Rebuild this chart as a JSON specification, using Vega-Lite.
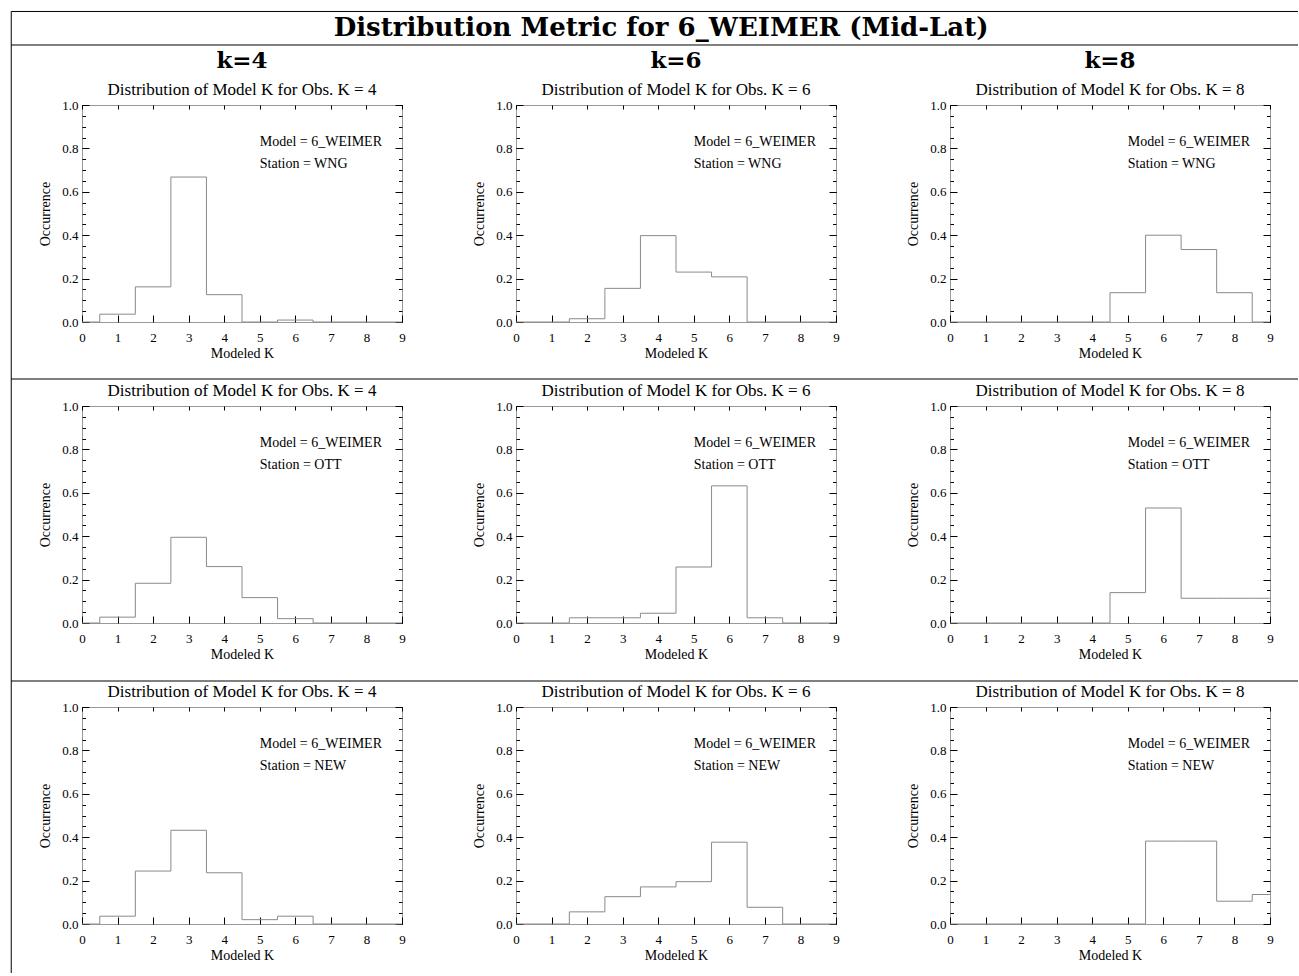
{
"$schema": "https://vega.github.io/schema/vega-lite/v6.json",
"padding": {"left": 10, "top": 10, "right": 0, "bottom": 0},
"background": "white",
"data": {"values": [
{"st":"WNG","obs":4,"k":0,"p":0},{"st":"WNG","obs":4,"k":1,"p":0.036},{"st":"WNG","obs":4,"k":2,"p":0.162},{"st":"WNG","obs":4,"k":3,"p":0.668},{"st":"WNG","obs":4,"k":4,"p":0.126},{"st":"WNG","obs":4,"k":5,"p":0},{"st":"WNG","obs":4,"k":6,"p":0.009},{"st":"WNG","obs":4,"k":7,"p":0},{"st":"WNG","obs":4,"k":8,"p":0},{"st":"WNG","obs":4,"k":9,"p":0},
{"st":"WNG","obs":6,"k":0,"p":0},{"st":"WNG","obs":6,"k":1,"p":0},{"st":"WNG","obs":6,"k":2,"p":0.015},{"st":"WNG","obs":6,"k":3,"p":0.155},{"st":"WNG","obs":6,"k":4,"p":0.398},{"st":"WNG","obs":6,"k":5,"p":0.23},{"st":"WNG","obs":6,"k":6,"p":0.208},{"st":"WNG","obs":6,"k":7,"p":0},{"st":"WNG","obs":6,"k":8,"p":0},{"st":"WNG","obs":6,"k":9,"p":0},
{"st":"WNG","obs":8,"k":0,"p":0},{"st":"WNG","obs":8,"k":1,"p":0},{"st":"WNG","obs":8,"k":2,"p":0},{"st":"WNG","obs":8,"k":3,"p":0},{"st":"WNG","obs":8,"k":4,"p":0},{"st":"WNG","obs":8,"k":5,"p":0.135},{"st":"WNG","obs":8,"k":6,"p":0.4},{"st":"WNG","obs":8,"k":7,"p":0.334},{"st":"WNG","obs":8,"k":8,"p":0.135},{"st":"WNG","obs":8,"k":9,"p":0},
{"st":"OTT","obs":4,"k":0,"p":0},{"st":"OTT","obs":4,"k":1,"p":0.027},{"st":"OTT","obs":4,"k":2,"p":0.183},{"st":"OTT","obs":4,"k":3,"p":0.395},{"st":"OTT","obs":4,"k":4,"p":0.26},{"st":"OTT","obs":4,"k":5,"p":0.117},{"st":"OTT","obs":4,"k":6,"p":0.02},{"st":"OTT","obs":4,"k":7,"p":0},{"st":"OTT","obs":4,"k":8,"p":0},{"st":"OTT","obs":4,"k":9,"p":0},
{"st":"OTT","obs":6,"k":0,"p":0},{"st":"OTT","obs":6,"k":1,"p":0},{"st":"OTT","obs":6,"k":2,"p":0.024},{"st":"OTT","obs":6,"k":3,"p":0.024},{"st":"OTT","obs":6,"k":4,"p":0.045},{"st":"OTT","obs":6,"k":5,"p":0.258},{"st":"OTT","obs":6,"k":6,"p":0.632},{"st":"OTT","obs":6,"k":7,"p":0.024},{"st":"OTT","obs":6,"k":8,"p":0},{"st":"OTT","obs":6,"k":9,"p":0},
{"st":"OTT","obs":8,"k":0,"p":0},{"st":"OTT","obs":8,"k":1,"p":0},{"st":"OTT","obs":8,"k":2,"p":0},{"st":"OTT","obs":8,"k":3,"p":0},{"st":"OTT","obs":8,"k":4,"p":0},{"st":"OTT","obs":8,"k":5,"p":0.14},{"st":"OTT","obs":8,"k":6,"p":0.53},{"st":"OTT","obs":8,"k":7,"p":0.114},{"st":"OTT","obs":8,"k":8,"p":0.114},{"st":"OTT","obs":8,"k":9,"p":0.114},
{"st":"NEW","obs":4,"k":0,"p":0},{"st":"NEW","obs":4,"k":1,"p":0.036},{"st":"NEW","obs":4,"k":2,"p":0.244},{"st":"NEW","obs":4,"k":3,"p":0.432},{"st":"NEW","obs":4,"k":4,"p":0.236},{"st":"NEW","obs":4,"k":5,"p":0.02},{"st":"NEW","obs":4,"k":6,"p":0.036},{"st":"NEW","obs":4,"k":7,"p":0},{"st":"NEW","obs":4,"k":8,"p":0},{"st":"NEW","obs":4,"k":9,"p":0},
{"st":"NEW","obs":6,"k":0,"p":0},{"st":"NEW","obs":6,"k":1,"p":0},{"st":"NEW","obs":6,"k":2,"p":0.056},{"st":"NEW","obs":6,"k":3,"p":0.126},{"st":"NEW","obs":6,"k":4,"p":0.171},{"st":"NEW","obs":6,"k":5,"p":0.195},{"st":"NEW","obs":6,"k":6,"p":0.377},{"st":"NEW","obs":6,"k":7,"p":0.077},{"st":"NEW","obs":6,"k":8,"p":0},{"st":"NEW","obs":6,"k":9,"p":0},
{"st":"NEW","obs":8,"k":0,"p":0},{"st":"NEW","obs":8,"k":1,"p":0},{"st":"NEW","obs":8,"k":2,"p":0},{"st":"NEW","obs":8,"k":3,"p":0},{"st":"NEW","obs":8,"k":4,"p":0},{"st":"NEW","obs":8,"k":5,"p":0},{"st":"NEW","obs":8,"k":6,"p":0.382},{"st":"NEW","obs":8,"k":7,"p":0.382},{"st":"NEW","obs":8,"k":8,"p":0.105},{"st":"NEW","obs":8,"k":9,"p":0.136}
]},
"columns": 3,
"spacing": {"row": 84, "column": 114},
"bounds": "flush",
"concat": [
{"width":320,"height":217,"transform":[{"filter":"datum.st=='WNG' && datum.obs==4"}],"resolve":{"axis":{"x":"independent","y":"independent"}},"layer":[
 {"mark":{"type":"line","interpolate":"step","color":"#8a8a8a","strokeWidth":1},"encoding":{"x":{"field":"k","type":"quantitative","scale":{"domain":[0,9],"nice":false},"axis":{"orient":"bottom","values":[0,1,2,3,4,5,6,7,8,9],"tickSize":-7,"labelPadding":16,"title":"Modeled K","titlePadding":2}},"y":{"field":"p","type":"quantitative","scale":{"domain":[0,1],"nice":false},"axis":{"orient":"left","values":[0,0.2,0.4,0.6,0.8,1],"format":".1f","tickSize":-7,"labelPadding":11,"title":"Occurrence","titlePadding":9}}}},
 {"mark":{"type":"line","opacity":0},"encoding":{"x":{"field":"k","type":"quantitative","axis":{"orient":"top","values":[0,1,2,3,4,5,6,7,8,9],"tickSize":-4,"labels":false,"title":null}},"y":{"field":"p","type":"quantitative","axis":{"orient":"right","values":[0,0.2,0.4,0.6,0.8,1],"tickSize":-7,"labels":false,"title":null}}}},
 {"mark":{"type":"line","opacity":0},"encoding":{"x":{"field":"k","type":"quantitative","axis":null},"y":{"field":"p","type":"quantitative","axis":{"orient":"left","values":[0,0.05,0.1,0.15,0.2,0.25,0.3,0.35,0.4,0.45,0.5,0.55,0.6,0.65,0.7,0.75,0.8,0.85,0.9,0.95,1],"tickSize":-3.5,"labels":false,"title":null}}}},
 {"mark":{"type":"line","opacity":0},"encoding":{"x":{"field":"k","type":"quantitative","axis":null},"y":{"field":"p","type":"quantitative","axis":{"orient":"right","values":[0,0.05,0.1,0.15,0.2,0.25,0.3,0.35,0.4,0.45,0.5,0.55,0.6,0.65,0.7,0.75,0.8,0.85,0.9,0.95,1],"tickSize":-3.5,"labels":false,"title":null}}}},
 {"transform":[{"filter":"datum.k==0"}],"mark":{"type":"text","align":"left","baseline":"middle","fontSize":14},"encoding":{"x":{"datum":5,"type":"quantitative","axis":null},"y":{"datum":0.83,"type":"quantitative","axis":null},"text":{"value":"Model = 6_WEIMER"}}},
 {"transform":[{"filter":"datum.k==0"}],"mark":{"type":"text","align":"left","baseline":"middle","fontSize":14},"encoding":{"x":{"datum":5,"type":"quantitative","axis":null},"y":{"datum":0.728,"type":"quantitative","axis":null},"text":{"value":"Station = WNG"}}},
 {"transform":[{"filter":"datum.k==0"}],"mark":{"type":"text","align":"center","baseline":"middle","fontSize":17},"encoding":{"x":{"datum":4.5,"type":"quantitative","axis":null},"y":{"datum":1.0691,"type":"quantitative","axis":null},"text":{"value":"Distribution of Model K for Obs. K = 4"}}},
 {"transform":[{"filter":"datum.k==0"}],"mark":{"type":"text","align":"center","baseline":"middle","font":"DejaVu Serif","fontWeight":"bold","fontSize":23},"encoding":{"x":{"datum":4.5,"type":"quantitative","axis":null},"y":{"datum":1.2028,"type":"quantitative","axis":null},"text":{"value":"k=4"}}},
 {"transform":[{"filter":"datum.k==0"}],"mark":{"type":"rule","color":"#000000","strokeWidth":1},"encoding":{"x":{"datum":-1.99,"type":"quantitative","axis":null},"x2":{"datum":34.2},"y":{"datum":1.431,"type":"quantitative","axis":null}}},
 {"transform":[{"filter":"datum.k==0"}],"mark":{"type":"rule","color":"#000000","strokeWidth":1},"encoding":{"x":{"datum":-1.99,"type":"quantitative","axis":null},"x2":{"datum":34.2},"y":{"datum":1.2765,"type":"quantitative","axis":null}}},
 {"transform":[{"filter":"datum.k==0"}],"mark":{"type":"rule","color":"#000000","strokeWidth":1},"encoding":{"x":{"datum":-1.99,"type":"quantitative","axis":null},"y":{"datum":1.431,"type":"quantitative","axis":null},"y2":{"datum":-3.0}}}
]},
{"width":320,"height":217,"transform":[{"filter":"datum.st=='WNG' && datum.obs==6"}],"resolve":{"axis":{"x":"independent","y":"independent"}},"layer":[
 {"mark":{"type":"line","interpolate":"step","color":"#8a8a8a","strokeWidth":1},"encoding":{"x":{"field":"k","type":"quantitative","scale":{"domain":[0,9],"nice":false},"axis":{"orient":"bottom","values":[0,1,2,3,4,5,6,7,8,9],"tickSize":-7,"labelPadding":16,"title":"Modeled K","titlePadding":2}},"y":{"field":"p","type":"quantitative","scale":{"domain":[0,1],"nice":false},"axis":{"orient":"left","values":[0,0.2,0.4,0.6,0.8,1],"format":".1f","tickSize":-7,"labelPadding":11,"title":"Occurrence","titlePadding":9}}}},
 {"mark":{"type":"line","opacity":0},"encoding":{"x":{"field":"k","type":"quantitative","axis":{"orient":"top","values":[0,1,2,3,4,5,6,7,8,9],"tickSize":-4,"labels":false,"title":null}},"y":{"field":"p","type":"quantitative","axis":{"orient":"right","values":[0,0.2,0.4,0.6,0.8,1],"tickSize":-7,"labels":false,"title":null}}}},
 {"mark":{"type":"line","opacity":0},"encoding":{"x":{"field":"k","type":"quantitative","axis":null},"y":{"field":"p","type":"quantitative","axis":{"orient":"left","values":[0,0.05,0.1,0.15,0.2,0.25,0.3,0.35,0.4,0.45,0.5,0.55,0.6,0.65,0.7,0.75,0.8,0.85,0.9,0.95,1],"tickSize":-3.5,"labels":false,"title":null}}}},
 {"mark":{"type":"line","opacity":0},"encoding":{"x":{"field":"k","type":"quantitative","axis":null},"y":{"field":"p","type":"quantitative","axis":{"orient":"right","values":[0,0.05,0.1,0.15,0.2,0.25,0.3,0.35,0.4,0.45,0.5,0.55,0.6,0.65,0.7,0.75,0.8,0.85,0.9,0.95,1],"tickSize":-3.5,"labels":false,"title":null}}}},
 {"transform":[{"filter":"datum.k==0"}],"mark":{"type":"text","align":"left","baseline":"middle","fontSize":14},"encoding":{"x":{"datum":5,"type":"quantitative","axis":null},"y":{"datum":0.83,"type":"quantitative","axis":null},"text":{"value":"Model = 6_WEIMER"}}},
 {"transform":[{"filter":"datum.k==0"}],"mark":{"type":"text","align":"left","baseline":"middle","fontSize":14},"encoding":{"x":{"datum":5,"type":"quantitative","axis":null},"y":{"datum":0.728,"type":"quantitative","axis":null},"text":{"value":"Station = WNG"}}},
 {"transform":[{"filter":"datum.k==0"}],"mark":{"type":"text","align":"center","baseline":"middle","fontSize":17},"encoding":{"x":{"datum":4.5,"type":"quantitative","axis":null},"y":{"datum":1.0691,"type":"quantitative","axis":null},"text":{"value":"Distribution of Model K for Obs. K = 6"}}},
 {"transform":[{"filter":"datum.k==0"}],"mark":{"type":"text","align":"center","baseline":"middle","font":"DejaVu Serif","fontWeight":"bold","fontSize":23},"encoding":{"x":{"datum":4.5,"type":"quantitative","axis":null},"y":{"datum":1.2028,"type":"quantitative","axis":null},"text":{"value":"k=6"}}},
 {"transform":[{"filter":"datum.k==0"}],"mark":{"type":"text","align":"center","baseline":"middle","font":"DejaVu Serif","fontWeight":"bold","fontSize":26},"encoding":{"x":{"datum":4.08,"type":"quantitative","axis":null},"y":{"datum":1.3548,"type":"quantitative","axis":null},"text":{"value":"Distribution Metric for 6_WEIMER (Mid-Lat)"}}}
]},
{"width":320,"height":217,"transform":[{"filter":"datum.st=='WNG' && datum.obs==8"}],"resolve":{"axis":{"x":"independent","y":"independent"}},"layer":[
 {"mark":{"type":"line","interpolate":"step","color":"#8a8a8a","strokeWidth":1},"encoding":{"x":{"field":"k","type":"quantitative","scale":{"domain":[0,9],"nice":false},"axis":{"orient":"bottom","values":[0,1,2,3,4,5,6,7,8,9],"tickSize":-7,"labelPadding":16,"title":"Modeled K","titlePadding":2}},"y":{"field":"p","type":"quantitative","scale":{"domain":[0,1],"nice":false},"axis":{"orient":"left","values":[0,0.2,0.4,0.6,0.8,1],"format":".1f","tickSize":-7,"labelPadding":11,"title":"Occurrence","titlePadding":9}}}},
 {"mark":{"type":"line","opacity":0},"encoding":{"x":{"field":"k","type":"quantitative","axis":{"orient":"top","values":[0,1,2,3,4,5,6,7,8,9],"tickSize":-4,"labels":false,"title":null}},"y":{"field":"p","type":"quantitative","axis":{"orient":"right","values":[0,0.2,0.4,0.6,0.8,1],"tickSize":-7,"labels":false,"title":null}}}},
 {"mark":{"type":"line","opacity":0},"encoding":{"x":{"field":"k","type":"quantitative","axis":null},"y":{"field":"p","type":"quantitative","axis":{"orient":"left","values":[0,0.05,0.1,0.15,0.2,0.25,0.3,0.35,0.4,0.45,0.5,0.55,0.6,0.65,0.7,0.75,0.8,0.85,0.9,0.95,1],"tickSize":-3.5,"labels":false,"title":null}}}},
 {"mark":{"type":"line","opacity":0},"encoding":{"x":{"field":"k","type":"quantitative","axis":null},"y":{"field":"p","type":"quantitative","axis":{"orient":"right","values":[0,0.05,0.1,0.15,0.2,0.25,0.3,0.35,0.4,0.45,0.5,0.55,0.6,0.65,0.7,0.75,0.8,0.85,0.9,0.95,1],"tickSize":-3.5,"labels":false,"title":null}}}},
 {"transform":[{"filter":"datum.k==0"}],"mark":{"type":"text","align":"left","baseline":"middle","fontSize":14},"encoding":{"x":{"datum":5,"type":"quantitative","axis":null},"y":{"datum":0.83,"type":"quantitative","axis":null},"text":{"value":"Model = 6_WEIMER"}}},
 {"transform":[{"filter":"datum.k==0"}],"mark":{"type":"text","align":"left","baseline":"middle","fontSize":14},"encoding":{"x":{"datum":5,"type":"quantitative","axis":null},"y":{"datum":0.728,"type":"quantitative","axis":null},"text":{"value":"Station = WNG"}}},
 {"transform":[{"filter":"datum.k==0"}],"mark":{"type":"text","align":"center","baseline":"middle","fontSize":17},"encoding":{"x":{"datum":4.5,"type":"quantitative","axis":null},"y":{"datum":1.0691,"type":"quantitative","axis":null},"text":{"value":"Distribution of Model K for Obs. K = 8"}}},
 {"transform":[{"filter":"datum.k==0"}],"mark":{"type":"text","align":"center","baseline":"middle","font":"DejaVu Serif","fontWeight":"bold","fontSize":23},"encoding":{"x":{"datum":4.5,"type":"quantitative","axis":null},"y":{"datum":1.2028,"type":"quantitative","axis":null},"text":{"value":"k=8"}}}
]},
{"width":320,"height":217,"transform":[{"filter":"datum.st=='OTT' && datum.obs==4"}],"resolve":{"axis":{"x":"independent","y":"independent"}},"layer":[
 {"mark":{"type":"line","interpolate":"step","color":"#8a8a8a","strokeWidth":1},"encoding":{"x":{"field":"k","type":"quantitative","scale":{"domain":[0,9],"nice":false},"axis":{"orient":"bottom","values":[0,1,2,3,4,5,6,7,8,9],"tickSize":-7,"labelPadding":16,"title":"Modeled K","titlePadding":2}},"y":{"field":"p","type":"quantitative","scale":{"domain":[0,1],"nice":false},"axis":{"orient":"left","values":[0,0.2,0.4,0.6,0.8,1],"format":".1f","tickSize":-7,"labelPadding":11,"title":"Occurrence","titlePadding":9}}}},
 {"mark":{"type":"line","opacity":0},"encoding":{"x":{"field":"k","type":"quantitative","axis":{"orient":"top","values":[0,1,2,3,4,5,6,7,8,9],"tickSize":-4,"labels":false,"title":null}},"y":{"field":"p","type":"quantitative","axis":{"orient":"right","values":[0,0.2,0.4,0.6,0.8,1],"tickSize":-7,"labels":false,"title":null}}}},
 {"mark":{"type":"line","opacity":0},"encoding":{"x":{"field":"k","type":"quantitative","axis":null},"y":{"field":"p","type":"quantitative","axis":{"orient":"left","values":[0,0.05,0.1,0.15,0.2,0.25,0.3,0.35,0.4,0.45,0.5,0.55,0.6,0.65,0.7,0.75,0.8,0.85,0.9,0.95,1],"tickSize":-3.5,"labels":false,"title":null}}}},
 {"mark":{"type":"line","opacity":0},"encoding":{"x":{"field":"k","type":"quantitative","axis":null},"y":{"field":"p","type":"quantitative","axis":{"orient":"right","values":[0,0.05,0.1,0.15,0.2,0.25,0.3,0.35,0.4,0.45,0.5,0.55,0.6,0.65,0.7,0.75,0.8,0.85,0.9,0.95,1],"tickSize":-3.5,"labels":false,"title":null}}}},
 {"transform":[{"filter":"datum.k==0"}],"mark":{"type":"text","align":"left","baseline":"middle","fontSize":14},"encoding":{"x":{"datum":5,"type":"quantitative","axis":null},"y":{"datum":0.83,"type":"quantitative","axis":null},"text":{"value":"Model = 6_WEIMER"}}},
 {"transform":[{"filter":"datum.k==0"}],"mark":{"type":"text","align":"left","baseline":"middle","fontSize":14},"encoding":{"x":{"datum":5,"type":"quantitative","axis":null},"y":{"datum":0.728,"type":"quantitative","axis":null},"text":{"value":"Station = OTT"}}},
 {"transform":[{"filter":"datum.k==0"}],"mark":{"type":"text","align":"center","baseline":"middle","fontSize":17},"encoding":{"x":{"datum":4.5,"type":"quantitative","axis":null},"y":{"datum":1.0691,"type":"quantitative","axis":null},"text":{"value":"Distribution of Model K for Obs. K = 4"}}},
 {"transform":[{"filter":"datum.k==0"}],"mark":{"type":"rule","color":"#000000","strokeWidth":1},"encoding":{"x":{"datum":-1.99,"type":"quantitative","axis":null},"x2":{"datum":34.2},"y":{"datum":1.1244,"type":"quantitative","axis":null}}}
]},
{"width":320,"height":217,"transform":[{"filter":"datum.st=='OTT' && datum.obs==6"}],"resolve":{"axis":{"x":"independent","y":"independent"}},"layer":[
 {"mark":{"type":"line","interpolate":"step","color":"#8a8a8a","strokeWidth":1},"encoding":{"x":{"field":"k","type":"quantitative","scale":{"domain":[0,9],"nice":false},"axis":{"orient":"bottom","values":[0,1,2,3,4,5,6,7,8,9],"tickSize":-7,"labelPadding":16,"title":"Modeled K","titlePadding":2}},"y":{"field":"p","type":"quantitative","scale":{"domain":[0,1],"nice":false},"axis":{"orient":"left","values":[0,0.2,0.4,0.6,0.8,1],"format":".1f","tickSize":-7,"labelPadding":11,"title":"Occurrence","titlePadding":9}}}},
 {"mark":{"type":"line","opacity":0},"encoding":{"x":{"field":"k","type":"quantitative","axis":{"orient":"top","values":[0,1,2,3,4,5,6,7,8,9],"tickSize":-4,"labels":false,"title":null}},"y":{"field":"p","type":"quantitative","axis":{"orient":"right","values":[0,0.2,0.4,0.6,0.8,1],"tickSize":-7,"labels":false,"title":null}}}},
 {"mark":{"type":"line","opacity":0},"encoding":{"x":{"field":"k","type":"quantitative","axis":null},"y":{"field":"p","type":"quantitative","axis":{"orient":"left","values":[0,0.05,0.1,0.15,0.2,0.25,0.3,0.35,0.4,0.45,0.5,0.55,0.6,0.65,0.7,0.75,0.8,0.85,0.9,0.95,1],"tickSize":-3.5,"labels":false,"title":null}}}},
 {"mark":{"type":"line","opacity":0},"encoding":{"x":{"field":"k","type":"quantitative","axis":null},"y":{"field":"p","type":"quantitative","axis":{"orient":"right","values":[0,0.05,0.1,0.15,0.2,0.25,0.3,0.35,0.4,0.45,0.5,0.55,0.6,0.65,0.7,0.75,0.8,0.85,0.9,0.95,1],"tickSize":-3.5,"labels":false,"title":null}}}},
 {"transform":[{"filter":"datum.k==0"}],"mark":{"type":"text","align":"left","baseline":"middle","fontSize":14},"encoding":{"x":{"datum":5,"type":"quantitative","axis":null},"y":{"datum":0.83,"type":"quantitative","axis":null},"text":{"value":"Model = 6_WEIMER"}}},
 {"transform":[{"filter":"datum.k==0"}],"mark":{"type":"text","align":"left","baseline":"middle","fontSize":14},"encoding":{"x":{"datum":5,"type":"quantitative","axis":null},"y":{"datum":0.728,"type":"quantitative","axis":null},"text":{"value":"Station = OTT"}}},
 {"transform":[{"filter":"datum.k==0"}],"mark":{"type":"text","align":"center","baseline":"middle","fontSize":17},"encoding":{"x":{"datum":4.5,"type":"quantitative","axis":null},"y":{"datum":1.0691,"type":"quantitative","axis":null},"text":{"value":"Distribution of Model K for Obs. K = 6"}}}
]},
{"width":320,"height":217,"transform":[{"filter":"datum.st=='OTT' && datum.obs==8"}],"resolve":{"axis":{"x":"independent","y":"independent"}},"layer":[
 {"mark":{"type":"line","interpolate":"step","color":"#8a8a8a","strokeWidth":1},"encoding":{"x":{"field":"k","type":"quantitative","scale":{"domain":[0,9],"nice":false},"axis":{"orient":"bottom","values":[0,1,2,3,4,5,6,7,8,9],"tickSize":-7,"labelPadding":16,"title":"Modeled K","titlePadding":2}},"y":{"field":"p","type":"quantitative","scale":{"domain":[0,1],"nice":false},"axis":{"orient":"left","values":[0,0.2,0.4,0.6,0.8,1],"format":".1f","tickSize":-7,"labelPadding":11,"title":"Occurrence","titlePadding":9}}}},
 {"mark":{"type":"line","opacity":0},"encoding":{"x":{"field":"k","type":"quantitative","axis":{"orient":"top","values":[0,1,2,3,4,5,6,7,8,9],"tickSize":-4,"labels":false,"title":null}},"y":{"field":"p","type":"quantitative","axis":{"orient":"right","values":[0,0.2,0.4,0.6,0.8,1],"tickSize":-7,"labels":false,"title":null}}}},
 {"mark":{"type":"line","opacity":0},"encoding":{"x":{"field":"k","type":"quantitative","axis":null},"y":{"field":"p","type":"quantitative","axis":{"orient":"left","values":[0,0.05,0.1,0.15,0.2,0.25,0.3,0.35,0.4,0.45,0.5,0.55,0.6,0.65,0.7,0.75,0.8,0.85,0.9,0.95,1],"tickSize":-3.5,"labels":false,"title":null}}}},
 {"mark":{"type":"line","opacity":0},"encoding":{"x":{"field":"k","type":"quantitative","axis":null},"y":{"field":"p","type":"quantitative","axis":{"orient":"right","values":[0,0.05,0.1,0.15,0.2,0.25,0.3,0.35,0.4,0.45,0.5,0.55,0.6,0.65,0.7,0.75,0.8,0.85,0.9,0.95,1],"tickSize":-3.5,"labels":false,"title":null}}}},
 {"transform":[{"filter":"datum.k==0"}],"mark":{"type":"text","align":"left","baseline":"middle","fontSize":14},"encoding":{"x":{"datum":5,"type":"quantitative","axis":null},"y":{"datum":0.83,"type":"quantitative","axis":null},"text":{"value":"Model = 6_WEIMER"}}},
 {"transform":[{"filter":"datum.k==0"}],"mark":{"type":"text","align":"left","baseline":"middle","fontSize":14},"encoding":{"x":{"datum":5,"type":"quantitative","axis":null},"y":{"datum":0.728,"type":"quantitative","axis":null},"text":{"value":"Station = OTT"}}},
 {"transform":[{"filter":"datum.k==0"}],"mark":{"type":"text","align":"center","baseline":"middle","fontSize":17},"encoding":{"x":{"datum":4.5,"type":"quantitative","axis":null},"y":{"datum":1.0691,"type":"quantitative","axis":null},"text":{"value":"Distribution of Model K for Obs. K = 8"}}}
]},
{"width":320,"height":217,"transform":[{"filter":"datum.st=='NEW' && datum.obs==4"}],"resolve":{"axis":{"x":"independent","y":"independent"}},"layer":[
 {"mark":{"type":"line","interpolate":"step","color":"#8a8a8a","strokeWidth":1},"encoding":{"x":{"field":"k","type":"quantitative","scale":{"domain":[0,9],"nice":false},"axis":{"orient":"bottom","values":[0,1,2,3,4,5,6,7,8,9],"tickSize":-7,"labelPadding":16,"title":"Modeled K","titlePadding":2}},"y":{"field":"p","type":"quantitative","scale":{"domain":[0,1],"nice":false},"axis":{"orient":"left","values":[0,0.2,0.4,0.6,0.8,1],"format":".1f","tickSize":-7,"labelPadding":11,"title":"Occurrence","titlePadding":9}}}},
 {"mark":{"type":"line","opacity":0},"encoding":{"x":{"field":"k","type":"quantitative","axis":{"orient":"top","values":[0,1,2,3,4,5,6,7,8,9],"tickSize":-4,"labels":false,"title":null}},"y":{"field":"p","type":"quantitative","axis":{"orient":"right","values":[0,0.2,0.4,0.6,0.8,1],"tickSize":-7,"labels":false,"title":null}}}},
 {"mark":{"type":"line","opacity":0},"encoding":{"x":{"field":"k","type":"quantitative","axis":null},"y":{"field":"p","type":"quantitative","axis":{"orient":"left","values":[0,0.05,0.1,0.15,0.2,0.25,0.3,0.35,0.4,0.45,0.5,0.55,0.6,0.65,0.7,0.75,0.8,0.85,0.9,0.95,1],"tickSize":-3.5,"labels":false,"title":null}}}},
 {"mark":{"type":"line","opacity":0},"encoding":{"x":{"field":"k","type":"quantitative","axis":null},"y":{"field":"p","type":"quantitative","axis":{"orient":"right","values":[0,0.05,0.1,0.15,0.2,0.25,0.3,0.35,0.4,0.45,0.5,0.55,0.6,0.65,0.7,0.75,0.8,0.85,0.9,0.95,1],"tickSize":-3.5,"labels":false,"title":null}}}},
 {"transform":[{"filter":"datum.k==0"}],"mark":{"type":"text","align":"left","baseline":"middle","fontSize":14},"encoding":{"x":{"datum":5,"type":"quantitative","axis":null},"y":{"datum":0.83,"type":"quantitative","axis":null},"text":{"value":"Model = 6_WEIMER"}}},
 {"transform":[{"filter":"datum.k==0"}],"mark":{"type":"text","align":"left","baseline":"middle","fontSize":14},"encoding":{"x":{"datum":5,"type":"quantitative","axis":null},"y":{"datum":0.728,"type":"quantitative","axis":null},"text":{"value":"Station = NEW"}}},
 {"transform":[{"filter":"datum.k==0"}],"mark":{"type":"text","align":"center","baseline":"middle","fontSize":17},"encoding":{"x":{"datum":4.5,"type":"quantitative","axis":null},"y":{"datum":1.0691,"type":"quantitative","axis":null},"text":{"value":"Distribution of Model K for Obs. K = 4"}}},
 {"transform":[{"filter":"datum.k==0"}],"mark":{"type":"rule","color":"#000000","strokeWidth":1},"encoding":{"x":{"datum":-1.99,"type":"quantitative","axis":null},"x2":{"datum":34.2},"y":{"datum":1.1198,"type":"quantitative","axis":null}}}
]},
{"width":320,"height":217,"transform":[{"filter":"datum.st=='NEW' && datum.obs==6"}],"resolve":{"axis":{"x":"independent","y":"independent"}},"layer":[
 {"mark":{"type":"line","interpolate":"step","color":"#8a8a8a","strokeWidth":1},"encoding":{"x":{"field":"k","type":"quantitative","scale":{"domain":[0,9],"nice":false},"axis":{"orient":"bottom","values":[0,1,2,3,4,5,6,7,8,9],"tickSize":-7,"labelPadding":16,"title":"Modeled K","titlePadding":2}},"y":{"field":"p","type":"quantitative","scale":{"domain":[0,1],"nice":false},"axis":{"orient":"left","values":[0,0.2,0.4,0.6,0.8,1],"format":".1f","tickSize":-7,"labelPadding":11,"title":"Occurrence","titlePadding":9}}}},
 {"mark":{"type":"line","opacity":0},"encoding":{"x":{"field":"k","type":"quantitative","axis":{"orient":"top","values":[0,1,2,3,4,5,6,7,8,9],"tickSize":-4,"labels":false,"title":null}},"y":{"field":"p","type":"quantitative","axis":{"orient":"right","values":[0,0.2,0.4,0.6,0.8,1],"tickSize":-7,"labels":false,"title":null}}}},
 {"mark":{"type":"line","opacity":0},"encoding":{"x":{"field":"k","type":"quantitative","axis":null},"y":{"field":"p","type":"quantitative","axis":{"orient":"left","values":[0,0.05,0.1,0.15,0.2,0.25,0.3,0.35,0.4,0.45,0.5,0.55,0.6,0.65,0.7,0.75,0.8,0.85,0.9,0.95,1],"tickSize":-3.5,"labels":false,"title":null}}}},
 {"mark":{"type":"line","opacity":0},"encoding":{"x":{"field":"k","type":"quantitative","axis":null},"y":{"field":"p","type":"quantitative","axis":{"orient":"right","values":[0,0.05,0.1,0.15,0.2,0.25,0.3,0.35,0.4,0.45,0.5,0.55,0.6,0.65,0.7,0.75,0.8,0.85,0.9,0.95,1],"tickSize":-3.5,"labels":false,"title":null}}}},
 {"transform":[{"filter":"datum.k==0"}],"mark":{"type":"text","align":"left","baseline":"middle","fontSize":14},"encoding":{"x":{"datum":5,"type":"quantitative","axis":null},"y":{"datum":0.83,"type":"quantitative","axis":null},"text":{"value":"Model = 6_WEIMER"}}},
 {"transform":[{"filter":"datum.k==0"}],"mark":{"type":"text","align":"left","baseline":"middle","fontSize":14},"encoding":{"x":{"datum":5,"type":"quantitative","axis":null},"y":{"datum":0.728,"type":"quantitative","axis":null},"text":{"value":"Station = NEW"}}},
 {"transform":[{"filter":"datum.k==0"}],"mark":{"type":"text","align":"center","baseline":"middle","fontSize":17},"encoding":{"x":{"datum":4.5,"type":"quantitative","axis":null},"y":{"datum":1.0691,"type":"quantitative","axis":null},"text":{"value":"Distribution of Model K for Obs. K = 6"}}}
]},
{"width":320,"height":217,"transform":[{"filter":"datum.st=='NEW' && datum.obs==8"}],"resolve":{"axis":{"x":"independent","y":"independent"}},"layer":[
 {"mark":{"type":"line","interpolate":"step","color":"#8a8a8a","strokeWidth":1},"encoding":{"x":{"field":"k","type":"quantitative","scale":{"domain":[0,9],"nice":false},"axis":{"orient":"bottom","values":[0,1,2,3,4,5,6,7,8,9],"tickSize":-7,"labelPadding":16,"title":"Modeled K","titlePadding":2}},"y":{"field":"p","type":"quantitative","scale":{"domain":[0,1],"nice":false},"axis":{"orient":"left","values":[0,0.2,0.4,0.6,0.8,1],"format":".1f","tickSize":-7,"labelPadding":11,"title":"Occurrence","titlePadding":9}}}},
 {"mark":{"type":"line","opacity":0},"encoding":{"x":{"field":"k","type":"quantitative","axis":{"orient":"top","values":[0,1,2,3,4,5,6,7,8,9],"tickSize":-4,"labels":false,"title":null}},"y":{"field":"p","type":"quantitative","axis":{"orient":"right","values":[0,0.2,0.4,0.6,0.8,1],"tickSize":-7,"labels":false,"title":null}}}},
 {"mark":{"type":"line","opacity":0},"encoding":{"x":{"field":"k","type":"quantitative","axis":null},"y":{"field":"p","type":"quantitative","axis":{"orient":"left","values":[0,0.05,0.1,0.15,0.2,0.25,0.3,0.35,0.4,0.45,0.5,0.55,0.6,0.65,0.7,0.75,0.8,0.85,0.9,0.95,1],"tickSize":-3.5,"labels":false,"title":null}}}},
 {"mark":{"type":"line","opacity":0},"encoding":{"x":{"field":"k","type":"quantitative","axis":null},"y":{"field":"p","type":"quantitative","axis":{"orient":"right","values":[0,0.05,0.1,0.15,0.2,0.25,0.3,0.35,0.4,0.45,0.5,0.55,0.6,0.65,0.7,0.75,0.8,0.85,0.9,0.95,1],"tickSize":-3.5,"labels":false,"title":null}}}},
 {"transform":[{"filter":"datum.k==0"}],"mark":{"type":"text","align":"left","baseline":"middle","fontSize":14},"encoding":{"x":{"datum":5,"type":"quantitative","axis":null},"y":{"datum":0.83,"type":"quantitative","axis":null},"text":{"value":"Model = 6_WEIMER"}}},
 {"transform":[{"filter":"datum.k==0"}],"mark":{"type":"text","align":"left","baseline":"middle","fontSize":14},"encoding":{"x":{"datum":5,"type":"quantitative","axis":null},"y":{"datum":0.728,"type":"quantitative","axis":null},"text":{"value":"Station = NEW"}}},
 {"transform":[{"filter":"datum.k==0"}],"mark":{"type":"text","align":"center","baseline":"middle","fontSize":17},"encoding":{"x":{"datum":4.5,"type":"quantitative","axis":null},"y":{"datum":1.0691,"type":"quantitative","axis":null},"text":{"value":"Distribution of Model K for Obs. K = 8"}}}
]}
],
"config": {
 "font": "Liberation Serif",
 "view": {"stroke": "#999999", "strokeWidth": 1},
 "axis": {"domain": false, "grid": false, "tickColor": "#000000", "tickWidth": 1, "labelFont": "Liberation Serif", "labelFontSize": 13, "labelColor": "#000000", "labelFlush": false, "labelOverlap": false, "titleFont": "Liberation Serif", "titleFontSize": 14, "titleFontWeight": "normal", "titleColor": "#000000"},
 "text": {"font": "Liberation Serif", "color": "#000000"}
}
}
